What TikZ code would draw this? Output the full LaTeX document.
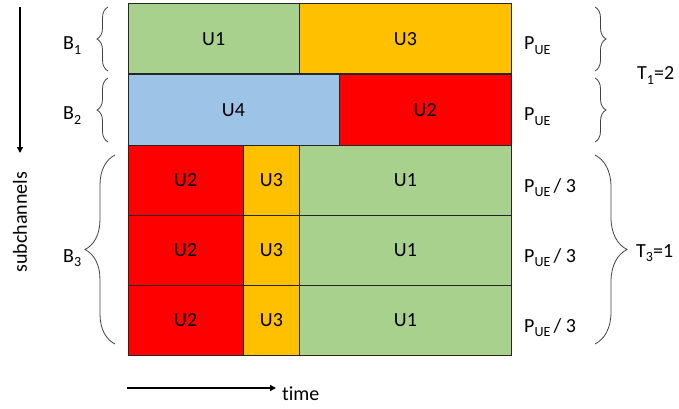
\documentclass[tikz,border=0pt]{standalone}
\usepackage{fontspec}
\setmainfont{Carlito}[Ligatures={NoCommon}]
\usetikzlibrary{arrows.meta,decorations.pathreplacing}

\definecolor{ugreen}{HTML}{A9D18E}
\definecolor{uorange}{HTML}{FFC000}
\definecolor{ublue}{HTML}{9DC3E6}
\definecolor{ured}{HTML}{FF0000}

% lowered small index, as in P_UE or B_1
\newcommand\lowidx[1]{\raisebox{-4.5pt}{\fontsize{14}{14}\selectfont #1}}

\begin{document}
\begin{tikzpicture}[x=1pt,y=-1pt,
  cell/.style={draw=black!85, line width=0.9pt, inner sep=0pt, anchor=north west,
    minimum height=70pt, font=\fontsize{20}{24}\selectfont},
  lbl/.style={inner sep=0pt, font=\fontsize{20}{24}\selectfont},
  curly/.style={draw=black!75, line width=0.8pt, decorate},
  axis/.style={draw=black, line width=1.4pt, -{Triangle[length=6pt,width=6pt]}}]
\useasboundingbox (0,0) rectangle (679,409);

% group B1
\node[cell, fill=ugreen,  minimum width=171.5pt] (b1u1) at (127.5,3.5) {U1};
\node[cell, fill=uorange, minimum width=212pt]   (b1u3) at (299,3.5) {U3};
% group B2
\node[cell, fill=ublue, minimum width=211pt]   (b2u4) at (127.5,74.5) {U4};
\node[cell, fill=ured,  minimum width=172.5pt] (b2u2) at (338.5,74.5) {U2};
% group B3: three subchannels
\foreach \r/\y in {a/145,b/215,c/285}{
  \node[cell, fill=ured,    minimum width=115.5pt] (b3u2\r) at (127.5,\y) {U2};
  \node[cell, fill=uorange, minimum width=56pt]    (b3u3\r) at (243,\y) {U3};
  \node[cell, fill=ugreen,  minimum width=212pt]   (b3u1\r) at (299,\y) {U1};
}

% left braces and group names
\coordinate (lb1s) at (108,71);  \coordinate (lb1e) at (108,7);
\coordinate (lb2s) at (108,142); \coordinate (lb2e) at (108,78);
\coordinate (lb3s) at (115,344); \coordinate (lb3e) at (115,155);
\draw[curly, decoration={brace, amplitude=11pt}] (lb1s) -- (lb1e);
\draw[curly, decoration={brace, amplitude=11pt}] (lb2s) -- (lb2e);
\draw[curly, decoration={brace, amplitude=30pt}] (lb3s) -- (lb3e);
\node[lbl, anchor=base west] (nb1) at (63,50)  {B\lowidx{1}};
\node[lbl, anchor=base west] (nb2) at (63,120) {B\lowidx{2}};
\node[lbl, anchor=base west] (nb3) at (63,262) {B\lowidx{3}};

% power per subchannel
\node[lbl, anchor=base west] (p1) at (524,50)  {P\lowidx{UE}};
\node[lbl, anchor=base west] (p2) at (524,121) {P\lowidx{UE}};
\node[lbl, anchor=base west] (p3) at (524,192) {P\lowidx{UE}\,/ 3};
\node[lbl, anchor=base west] (p4) at (524,262) {P\lowidx{UE}\,/ 3};
\node[lbl, anchor=base west] (p5) at (524,332) {P\lowidx{UE}\,/ 3};

% right braces and slot counts
\coordinate (rb1s) at (595,7);   \coordinate (rb1e) at (595,71);
\coordinate (rb2s) at (595,78);  \coordinate (rb2e) at (595,142);
\coordinate (rb3s) at (595,155); \coordinate (rb3e) at (595,344);
\draw[curly, decoration={brace, amplitude=11pt}] (rb1s) -- (rb1e);
\draw[curly, decoration={brace, amplitude=11pt}] (rb2s) -- (rb2e);
\draw[curly, decoration={brace, amplitude=32pt}] (rb3s) -- (rb3e);
\node[lbl, anchor=base west] (t1) at (637,80)  {T\lowidx{1}=2};
\node[lbl, anchor=base west] (t3) at (636,257) {T\lowidx{3}=1};

% axes
\coordinate (sc0) at (20,7);   \coordinate (sc1) at (20,153);
\draw[axis] (sc0) -- (sc1);
\node[lbl, rotate=90] (sctext) at (20,222) {subchannels};
\coordinate (tm0) at (127,388); \coordinate (tm1) at (276,388);
\draw[axis] (tm0) -- (tm1);
\node[lbl, anchor=base west] (tmtext) at (282,400) {time};
\end{tikzpicture}
\end{document}
